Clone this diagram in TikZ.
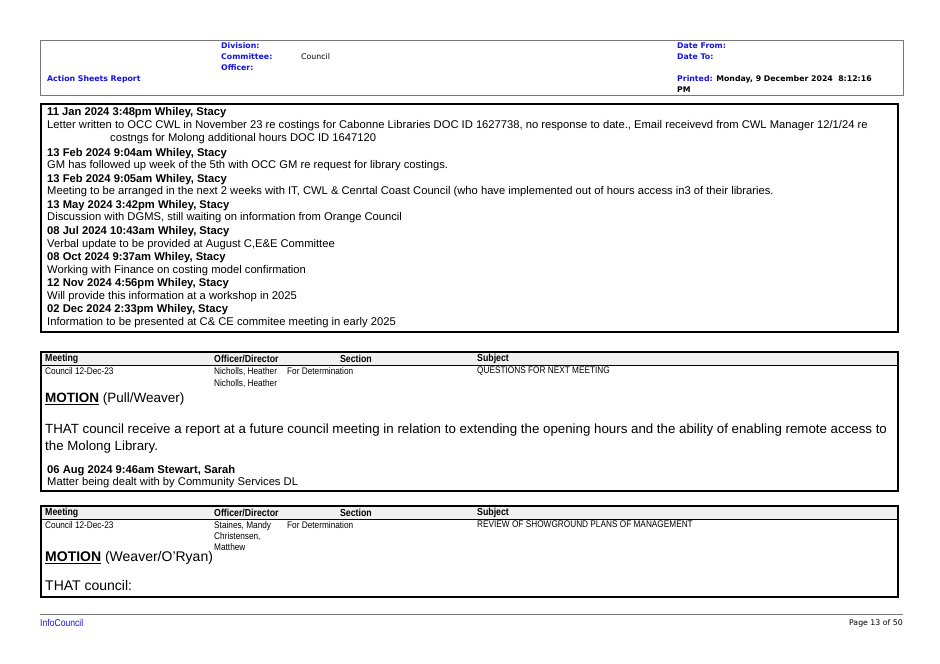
\documentclass[tikz,border=0pt]{standalone}
\usepackage{fontspec}
\setmainfont{Liberation Sans}
\newfontfamily\hdrfont{DejaVu Sans}
\newfontfamily\narrowfont[FakeStretch=0.86]{Liberation Sans}
\definecolor{hdrblue}{RGB}{20,20,230}
\definecolor{rulegray}{RGB}{120,120,120}
\tikzset{
  hdr/.style={anchor=west,inner sep=0pt,font=\hdrfont\bfseries\fontsize{7.8}{8}\selectfont,text=hdrblue},
  hdrval/.style={anchor=west,inner sep=0pt,font=\hdrfont\fontsize{7.8}{8}\selectfont},
  entryhead/.style={anchor=west,inner sep=0pt,font=\bfseries\fontsize{11.2}{13}\selectfont},
  entrybody/.style={anchor=west,inner sep=0pt,font=\fontsize{11.2}{13}\selectfont},
  colhead/.style={anchor=west,inner sep=0pt,font=\narrowfont\bfseries\fontsize{10.2}{10}\selectfont},
  cell/.style={anchor=north west,inner sep=0pt,align=left,font=\narrowfont\fontsize{9.6}{12.5}\selectfont},
  motion/.style={anchor=west,inner sep=0pt,font=\fontsize{13.3}{16}\selectfont},
  box/.style={draw,line width=1.3pt},
}
\begin{document}
\begin{tikzpicture}[x=1pt,y=-1pt]
\useasboundingbox[fill=white] (0,0) rectangle (940,664);

% Report header
\draw[rulegray,line width=0.8pt] (40,40) rectangle (903,95);
\node[hdr] (division) at (221,46) {Division:};
\node[hdr] (committee) at (221,57) {Committee:};
\node[hdrval] (council) at (301,57) {Council};
\node[hdr] (officer) at (221,68) {Officer:};
\node[hdr] (report) at (47,79) {Action Sheets Report};
\node[hdr] (datefrom) at (677,46) {Date From:};
\node[hdr] (dateto) at (677,57) {Date To:};
\node[hdr] (printed) at (677,79) {Printed: \textcolor{black}{Monday, 9 December 2024\ \ 8:12:16}};
\node[hdrval,font=\hdrfont\bfseries\fontsize{7.8}{8}\selectfont] (pm) at (677,90) {PM};

% First action box
\draw[box] (41,104) rectangle (898,332);
\node[entryhead] (h1) at (47,113) {11 Jan 2024 3:48pm Whiley, Stacy};
\node[entrybody] (b1) at (47,126) {Letter written to OCC CWL in November 23 re costings for Cabonne Libraries DOC ID 1627738, no response to date., Email receivevd from CWL Manager 12/1/24 re};
\node[entrybody] (b1b) at (110,139) {costngs for Molong additional hours DOC ID 1647120};
\node[entryhead] (h2) at (47,154) {13 Feb 2024 9:04am Whiley, Stacy};
\node[entrybody] (b2) at (47,166) {GM has followed up week of the 5th with OCC GM re request for library costings.};
\node[entryhead] (h3) at (47,180) {13 Feb 2024 9:05am Whiley, Stacy};
\node[entrybody] (b3) at (47,192) {Meeting to be arranged in the next 2 weeks with IT, CWL \& Cenrtal Coast Council (who have implemented out of hours access in3 of their libraries.};
\node[entryhead] (h4) at (47,206) {13 May 2024 3:42pm Whiley, Stacy};
\node[entrybody] (b4) at (47,218) {Discussion with DGMS, still waiting on information from Orange Council};
\node[entryhead] (h5) at (47,232) {08 Jul 2024 10:43am Whiley, Stacy};
\node[entrybody] (b5) at (47,245) {Verbal update to be provided at August C,E\&E Committee};
\node[entryhead] (h6) at (47,258) {08 Oct 2024 9:37am Whiley, Stacy};
\node[entrybody] (b6) at (47,271) {Working with Finance on costing model confirmation};
\node[entryhead] (h7) at (47,284) {12 Nov 2024 4:56pm Whiley, Stacy};
\node[entrybody] (b7) at (47,297) {Will provide this information at a workshop in 2025};
\node[entryhead] (h8) at (47,310) {02 Dec 2024 2:33pm Whiley, Stacy};
\node[entrybody] (b8) at (47,323) {Information to be presented at C\& CE commitee meeting in early 2025};

% Second action box
\fill[gray!12] (41,352) rectangle (898,365);
\draw[box] (41,352) rectangle (898,491);
\draw[line width=1pt] (41,365) -- (898,365);
\node[colhead] (meet2) at (45,359) {Meeting};
\node[colhead] (off2) at (214,359) {Officer/Director};
\node[colhead,anchor=east] (sec2) at (372,359) {Section};
\node[colhead] (subj2) at (477,359) {Subject};
\node[cell] (meetv2) at (45,367) {Council 12-Dec-23};
\node[cell] (offv2) at (214,367) {Nicholls, Heather\\Nicholls, Heather};
\node[cell] (secv2) at (287,367) {For Determination};
\node[cell] (subjv2) at (477,367) {QUESTIONS FOR NEXT MEETING};
\node[motion,font=\fontsize{13.5}{15}\selectfont] (mot2) at (45,399) {\underline{\textbf{MOTION}} (Pull/Weaver)};
\node[motion] (that2) at (45,430) {THAT council receive a report at a future council meeting in relation to extending the opening hours and the ability of enabling remote access to};
\node[motion] (that2b) at (45,447) {the Molong Library.};
\node[entryhead] (h9) at (47,471) {06 Aug 2024 9:46am Stewart, Sarah};
\node[entrybody] (b9) at (47,483) {Matter being dealt with by Community Services DL};

% Third action box
\fill[gray!12] (41,506) rectangle (898,519);
\draw[box] (41,506) rectangle (898,597);
\draw[line width=1pt] (41,519) -- (898,519);
\node[colhead] (meet3) at (45,513) {Meeting};
\node[colhead] (off3) at (214,513) {Officer/Director};
\node[colhead,anchor=east] (sec3) at (372,513) {Section};
\node[colhead] (subj3) at (477,513) {Subject};
\node[cell] (meetv3) at (45,521) {Council 12-Dec-23};
\node[cell,font=\narrowfont\fontsize{9.6}{11}\selectfont] (offv3) at (214,521) {Staines, Mandy\\Christensen,\\Matthew};
\node[cell] (secv3) at (287,521) {For Determination};
\node[cell] (subjv3) at (477,521) {REVIEW OF SHOWGROUND PLANS OF MANAGEMENT};
\node[motion,font=\fontsize{14}{16}\selectfont] (mot3) at (45,558) {\underline{\textbf{MOTION}} (Weaver/O'Ryan)};
\node[motion,font=\fontsize{14}{16}\selectfont] (that3) at (45,585) {THAT council:};

% Footer
\draw[rulegray,line width=0.6pt] (40,614) -- (903,614);
\node[anchor=west,inner sep=0pt,text=hdrblue,font=\narrowfont\fontsize{10}{11}\selectfont] (infocouncil) at (40,623) {InfoCouncil};
\node[anchor=east,inner sep=0pt,font=\hdrfont\fontsize{7.8}{9}\selectfont] (page) at (903,623) {Page 13 of 50};
\end{tikzpicture}
\end{document}
